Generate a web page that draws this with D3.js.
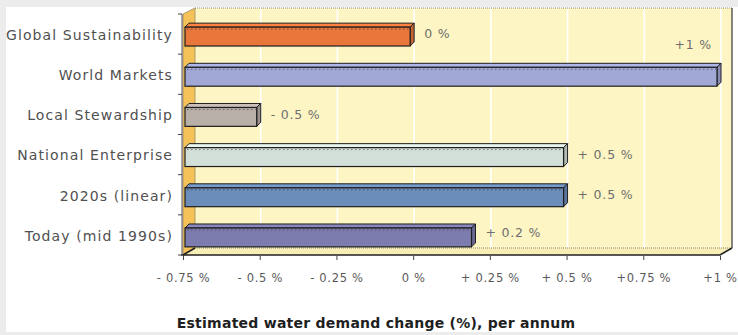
<!DOCTYPE html>
<html>
<head>
<meta charset="utf-8">
<script src="https://cdn.jsdelivr.net/npm/d3@7/dist/d3.min.js"></script>
<style>
  html, body { margin: 0; padding: 0; background: #ececec; }
  svg { display: block; }
  text { font-family: "DejaVu Sans", Verdana, sans-serif; }
</style>
</head>
<body>
<svg id="chart" width="738" height="335"></svg>
<script>
// Scenario names, top to bottom
const categories = [
  "Global Sustainability",
  "World Markets",
  "Local Stewardship",
  "National Enterprise",
  "2020s (linear)",
  "Today (mid 1990s)"
];
// Estimated change in water demand, % per annum
const values = [0, 1, -0.5, 0.5, 0.5, 0.2];
const valueLabels = ["0 %", "+1 %", "- 0.5 %", "+ 0.5 %", "+ 0.5 %", "+ 0.2 %"];
const barColors = ["#e9773c", "#a1a8d6", "#b9afa9", "#d3e0d9", "#6b8dba", "#7d7cae"];
const tickValues = [-0.75, -0.5, -0.25, 0, 0.25, 0.5, 0.75, 1];
const tickLabels = ["- 0.75 %", "- 0.5 %", "- 0.25 %", "0 %", "+ 0.25 %", "+ 0.5 %", "+0.75 %", "+1 %"];

const svg = d3.select("#chart");

// white card on the grey page
svg.append("rect").attr("x", 6).attr("y", 7).attr("width", 732).attr("height", 325).attr("fill", "#ffffff");

const x = d3.scaleLinear().domain([-0.75, 1]).range([183, 720]);
const y = d3.scaleBand().domain(categories).range([14, 255]).paddingInner(0.53).paddingOuter(0.265);

// wall depth offset (3-D look)
const dx = 12, dy = -7;
const x0 = x.range()[0], x1 = x.range()[1];
const yTop = y.range()[0], yBot = y.range()[1];

// back wall
svg.append("rect")
  .attr("x", x0 + dx).attr("y", yTop + dy + 1)
  .attr("width", x1 - x0).attr("height", yBot - yTop)
  .attr("fill", "#fdf6c4");
svg.append("line")
  .attr("x1", x0 + dx).attr("x2", x1 + dx).attr("y1", yTop + dy + 1).attr("y2", yTop + dy + 1)
  .attr("stroke", "#8a8478").attr("stroke-width", 1.2).attr("stroke-dasharray", "1,1");
svg.append("line")
  .attr("x1", x1 + dx).attr("x2", x1 + dx).attr("y1", yTop + dy + 1).attr("y2", yBot + dy)
  .attr("stroke", "#444").attr("stroke-width", 1.3);

// gridlines on the back wall
svg.append("g").selectAll("line")
  .data(tickValues.slice(1))
  .join("line")
  .attr("x1", d => x(d) + 1).attr("x2", d => x(d) + 1)
  .attr("y1", yTop + dy + 2).attr("y2", yBot + dy)
  .attr("stroke", "#ffffff").attr("stroke-width", 1.6);

// left wall
svg.append("path")
  .attr("d", `M${x0},${yTop} L${x0 + dx},${yTop + dy + 1} L${x0 + dx},${yBot + dy} L${x0},${yBot} Z`)
  .attr("fill", "#f5c25a").attr("stroke", "#9a8a60").attr("stroke-width", 0.8);

// floor
svg.append("path")
  .attr("d", `M${x0},${yBot} L${x0 + dx},${yBot + dy} L${x1 + dx},${yBot + dy} L${x1},${yBot} Z`)
  .attr("fill", "#f8efb6");
svg.append("line")
  .attr("x1", x0 + dx).attr("x2", x1 + dx).attr("y1", yBot + dy).attr("y2", yBot + dy)
  .attr("stroke", "#8a8478").attr("stroke-width", 1).attr("stroke-dasharray", "1,1");
svg.append("path")
  .attr("d", `M${x0 - 2},${yBot} L${x1},${yBot} L${x1 + dx},${yBot + dy}`)
  .attr("fill", "none").attr("stroke", "#222").attr("stroke-width", 1.6);
svg.append("line")
  .attr("x1", x0).attr("x2", x0 + dx).attr("y1", yBot).attr("y2", yBot + dy)
  .attr("stroke", "#222").attr("stroke-width", 1.6);

// left category axis line and ticks
const yBounds = d3.range(categories.length + 1).map(i => yTop + i * y.step());
svg.append("line")
  .attr("x1", x0 - 1).attr("x2", x0 - 1).attr("y1", yTop).attr("y2", yBot)
  .attr("stroke", "#555").attr("stroke-width", 1);
svg.append("g").selectAll("line")
  .data(yBounds)
  .join("line")
  .attr("x1", x0 - 5).attr("x2", x0 - 1)
  .attr("y1", d => d).attr("y2", d => d)
  .attr("stroke", "#444").attr("stroke-width", 1);

// category labels
svg.append("g").selectAll("text")
  .data(categories)
  .join("text")
  .attr("x", 173)
  .attr("y", d => y(d) + y.bandwidth() / 2 + 1)
  .attr("dy", "0.35em")
  .attr("text-anchor", "end")
  .attr("font-size", 14)
  .attr("letter-spacing", 1.1)
  .attr("fill", "#505050")
  .text(d => d);

// bottom value axis
const xAxis = d3.axisBottom(x)
  .tickValues(tickValues)
  .tickFormat((d, i) => tickLabels[i])
  .tickSize(4)
  .tickPadding(14);
const gx = svg.append("g").attr("transform", `translate(0,${yBot + 1})`).call(xAxis);
gx.select(".domain").remove();
gx.selectAll(".tick line").attr("stroke", "#444");
gx.selectAll(".tick text")
  .attr("font-size", 11.5)
  .attr("letter-spacing", 0.7)
  .attr("fill", "#5a5a5a")
  .attr("font-family", "DejaVu Sans, sans-serif");

// 3-D bars, drawn from the axis minimum
const bdx = 4, bdy = -4;
const bars = svg.append("g").selectAll("g")
  .data(categories.map((c, i) => ({ c, v: values[i], color: barColors[i], label: valueLabels[i] })))
  .join("g");

bars.each(function(d) {
  const g = d3.select(this);
  const bx0 = x(-0.75) + 2;
  const bx1 = x(d.v) - 3;
  const by = y(d.c) - 1.5 - bdy;
  const bh = y.bandwidth();
  const c = d3.color(d.color);
  // top face
  g.append("path")
    .attr("d", `M${bx0},${by} L${bx0 + bdx},${by + bdy} L${bx1 + bdx},${by + bdy} L${bx1},${by} Z`)
    .attr("fill", c.brighter(0.25)).attr("stroke", "#1e1e1e").attr("stroke-width", 1);
  // end face
  g.append("path")
    .attr("d", `M${bx1},${by} L${bx1 + bdx},${by + bdy} L${bx1 + bdx},${by + bh + bdy} L${bx1},${by + bh} Z`)
    .attr("fill", c.darker(0.5)).attr("stroke", "#1e1e1e").attr("stroke-width", 1);
  // front face
  g.append("rect")
    .attr("x", bx0).attr("y", by)
    .attr("width", bx1 - bx0).attr("height", bh)
    .attr("fill", d.color).attr("stroke", "#1e1e1e").attr("stroke-width", 1.2);
  // dotted shading line under the top edge
  g.append("line")
    .attr("x1", bx0 + 2).attr("x2", bx1 - 1).attr("y1", by + 2).attr("y2", by + 2)
    .attr("stroke", "#333").attr("stroke-width", 1).attr("stroke-dasharray", "1.5,2.5").attr("opacity", 0.6);
});

// value labels
bars.append("text")
  .attr("x", d => d.v >= 1 ? x(d.v) - 8 : x(d.v) + bdx + 7)
  .attr("y", d => d.v >= 1 ? y(d.c) - 20 : y(d.c) + y.bandwidth() / 2 + (d.v === 0.2 ? -2 : 0))
  .attr("dy", "0.35em")
  .attr("text-anchor", d => d.v >= 1 ? "end" : "start")
  .attr("font-size", 12.5)
  .attr("letter-spacing", 0.8)
  .attr("fill", "#6e6e6e")
  .text(d => d.label);

// axis title
svg.append("text")
  .attr("x", 376).attr("y", 328)
  .attr("text-anchor", "middle")
  .attr("font-size", 14)
  .attr("letter-spacing", 0.25)
  .attr("font-weight", "bold")
  .attr("fill", "#1e1e1e")
  .text("Estimated water demand change (%), per annum");
</script>
</body>
</html>
